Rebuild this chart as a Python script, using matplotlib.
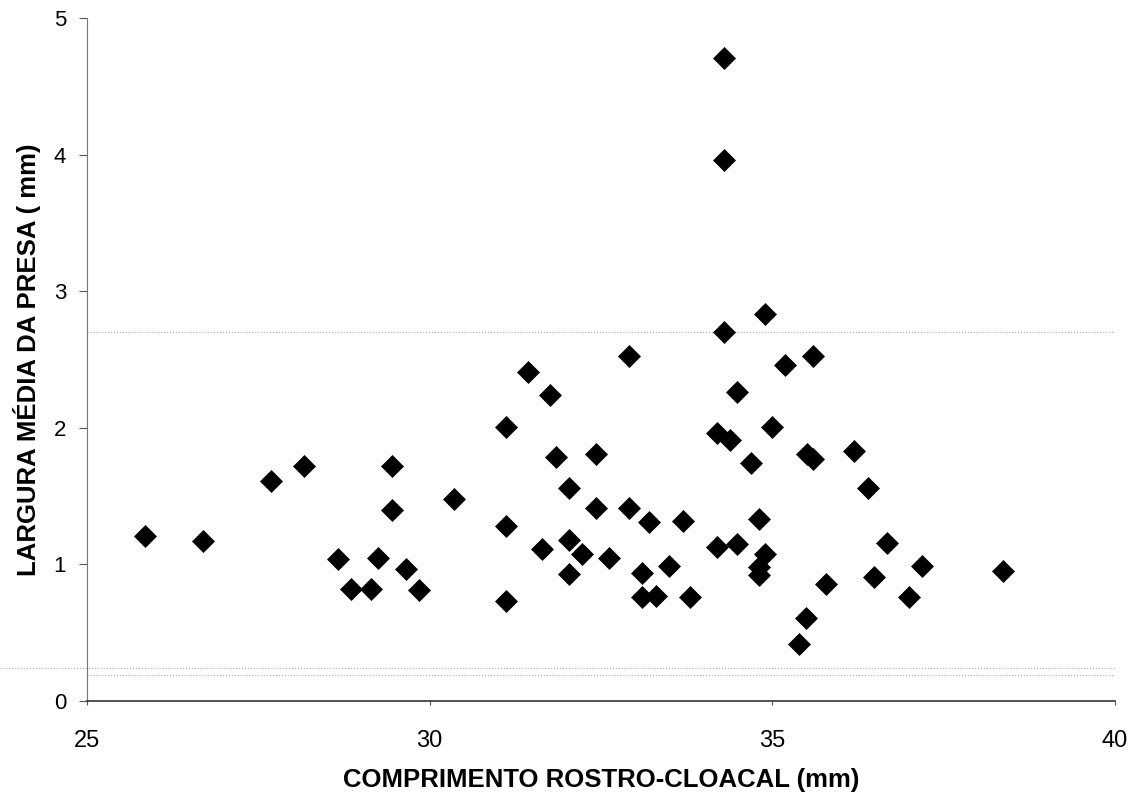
import matplotlib
matplotlib.use('Agg')
import matplotlib.pyplot as plt

plt.rcParams['font.family'] = ['Liberation Sans', 'DejaVu Sans']

# comprimento rostro-cloacal (mm) vs largura media da presa (mm)
crc = [25.85, 26.70, 27.68, 28.16, 28.67, 28.85, 29.15, 29.25, 29.45, 29.45,
       29.65, 29.85, 30.35, 31.11, 31.11, 31.11, 31.43, 31.64, 31.75, 31.84,
       32.03, 32.03, 32.03, 32.23, 32.43, 32.43, 32.62, 32.91, 32.91, 33.10,
       33.10, 33.20, 33.30, 33.50, 33.69, 33.80, 34.19, 34.19, 34.29, 34.29,
       34.30, 34.38, 34.49, 34.49, 34.69, 34.80, 34.80, 34.80, 34.89, 34.89,
       34.99, 35.19, 35.39, 35.49, 35.50, 35.59, 35.60, 35.79, 36.19, 36.39,
       36.48, 36.67, 36.99, 37.18, 38.36]
largura = [1.21, 1.17, 1.61, 1.72, 1.04, 0.82, 0.82, 1.045, 1.72, 1.40,
           0.965, 0.81, 1.48, 2.01, 1.28, 0.73, 2.41, 1.11, 2.24, 1.785,
           1.56, 1.18, 0.93, 1.08, 1.81, 1.41, 1.05, 2.53, 1.41, 0.94,
           0.76, 1.31, 0.77, 0.99, 1.32, 0.76, 1.96, 1.13, 4.71, 3.96,
           2.70, 1.91, 2.26, 1.15, 1.74, 1.33, 0.98, 0.92, 2.835, 1.08,
           2.01, 2.46, 0.42, 0.61, 1.81, 2.53, 1.77, 0.86, 1.83, 1.56,
           0.91, 1.16, 0.76, 0.99, 0.95]

x_ticks = [25, 30, 35, 40]
y_ticks = [0, 1, 2, 3, 4, 5]

fig = plt.figure(figsize=(11.4, 7.97), dpi=100)
ax = fig.add_axes([0.0763, 0.1205, 0.9017, 0.8565])

ax.plot(crc, largura, linestyle='none', marker='D', markersize=11,
        color='black', markeredgewidth=0.5)

# faint dotted lines left over from the scanned original
ax.axhline(2.70, color='#aaaaaa', linestyle=':', linewidth=0.8, zorder=0)
ax.axhline(0.24, xmin=-0.085, color='#aaaaaa', linestyle=':', linewidth=0.8,
           zorder=0, clip_on=False)
ax.axhline(0.19, color='#aaaaaa', linestyle=':', linewidth=0.8, zorder=0)

ax.set_xlim(25, 40)
ax.set_ylim(0, 5)
ax.set_xticks(x_ticks)
ax.set_yticks(y_ticks)

for side in ['top', 'right']:
    ax.spines[side].set_visible(False)
ax.spines['left'].set_color('#777777')
ax.spines['left'].set_linestyle((0, (1, 0.5)))
ax.spines['bottom'].set_color('#333333')
ax.spines['bottom'].set_linewidth(1.2)

ax.tick_params(axis='y', length=5.5, width=0.8, pad=9.5, labelsize=16, color='#555555')
ax.tick_params(axis='x', length=3, width=0.8, pad=18, labelsize=17, color='#555555')

ax.set_xlabel('COMPRIMENTO ROSTRO-CLOACAL (mm)', fontsize=18.5, fontweight='bold',
              labelpad=11.5)
ax.set_ylabel('LARGURA MÉDIA DA PRESA ( mm)', fontsize=18.5, fontweight='bold')
ax.yaxis.set_label_coords(-0.045, 0.5)

fig.savefig('out.png', dpi=100)
